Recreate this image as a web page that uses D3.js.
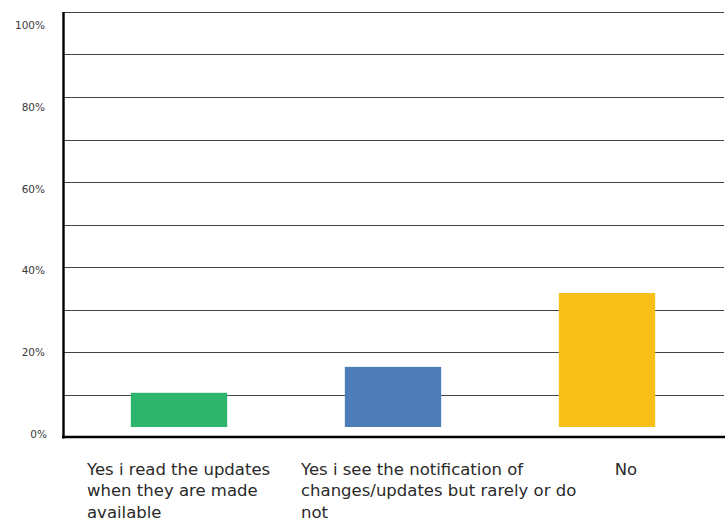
<!DOCTYPE html>
<html>
<head>
<meta charset="utf-8">
<script src="https://cdn.jsdelivr.net/npm/d3@7"></script>
<style>
  html, body { margin: 0; padding: 0; background: #fff; }
  svg { display: block; }
</style>
</head>
<body>
<svg id="chart" width="725" height="521"></svg>
<script>
// Survey answers (each category label is split into its display lines)
const categories = ["read", "notice", "no"];
const categoryLines = [
  ["Yes i read the updates", "when they are made", "available"],
  ["Yes i see the notification of", "changes/updates but rarely or do", "not"],
  ["No"]
];
const shares = [10.4, 16.5, 33.9];          // percent of respondents
const barColors = ["#2db56e", "#4d7cb9", "#f8bf18"];
const gridValues = [0, 10, 20, 30, 40, 50, 60, 70, 80, 90, 100];
const tickValues = [0, 20, 40, 60, 80, 100];

const svg = d3.select("#chart");
const W = 725, H = 521;
const plot = { left: 63, right: 725, top: 12, bottom: 437 };

const y = d3.scaleLinear().domain([0, 100]).range([plot.bottom, plot.top]);
// tick labels sit a little below their gridlines
const yLabel = d3.scaleLinear().domain([0, 100]).range([438, 29]);
const x = d3.scaleBand().domain(categories).range([72, 714]).padding(0);
const barW = x.bandwidth() * 0.45;
const barLift = 10;   // bars float slightly above the baseline

// horizontal gridlines
svg.append("g")
  .selectAll("line")
  .data(gridValues.filter(v => v > 0))
  .join("line")
  .attr("x1", plot.left).attr("x2", 724)
  .attr("y1", d => Math.round(y(d)) + 0.5).attr("y2", d => Math.round(y(d)) + 0.5)
  .attr("stroke", "#444").attr("stroke-width", 1.2);

// y tick labels
svg.append("g")
  .selectAll("text")
  .data(tickValues)
  .join("text")
  .attr("x", d => d === 0 ? 47 : 45)
  .attr("y", d => yLabel(d))
  .attr("text-anchor", "end")
  .attr("font-family", "'DejaVu Sans', sans-serif")
  .attr("font-size", 10.5)
  .attr("fill", "#3a3a3a")
  .text(d => d + "%");

// bars
svg.append("g")
  .selectAll("rect")
  .data(shares)
  .join("rect")
  .attr("x", (d, i) => x(categories[i]) + x.bandwidth() / 2 - barW / 2)
  .attr("width", barW)
  .attr("y", d => y(d))
  .attr("height", d => y(0) - barLift - y(d))
  .attr("fill", (d, i) => barColors[i]);

// axes lines
svg.append("line")
  .attr("x1", 63.5).attr("x2", 63.5)
  .attr("y1", plot.top).attr("y2", plot.bottom + 1.5)
  .attr("stroke", "#000").attr("stroke-width", 2.4);
svg.append("line")
  .attr("x1", 62).attr("x2", W)
  .attr("y1", plot.bottom).attr("y2", plot.bottom)
  .attr("stroke", "#000").attr("stroke-width", 2.6);

// category labels
const labels = svg.append("g")
  .attr("font-family", "'DejaVu Sans', sans-serif")
  .attr("font-size", 16.5)
  .attr("fill", "#2a2a2a");
categories.forEach((c, i) => {
  const lines = categoryLines[i];
  const single = lines.length === 1;
  const x0 = x(c) + 15;
  const t = labels.append("text")
    .attr("text-anchor", single ? "middle" : "start");
  lines.forEach((ln, j) => {
    t.append("tspan")
      .attr("x", single ? x0 + 111 : x0)
      .attr("y", 474.5 + j * 21.5)
      .text(ln);
  });
});
</script>
</body>
</html>
